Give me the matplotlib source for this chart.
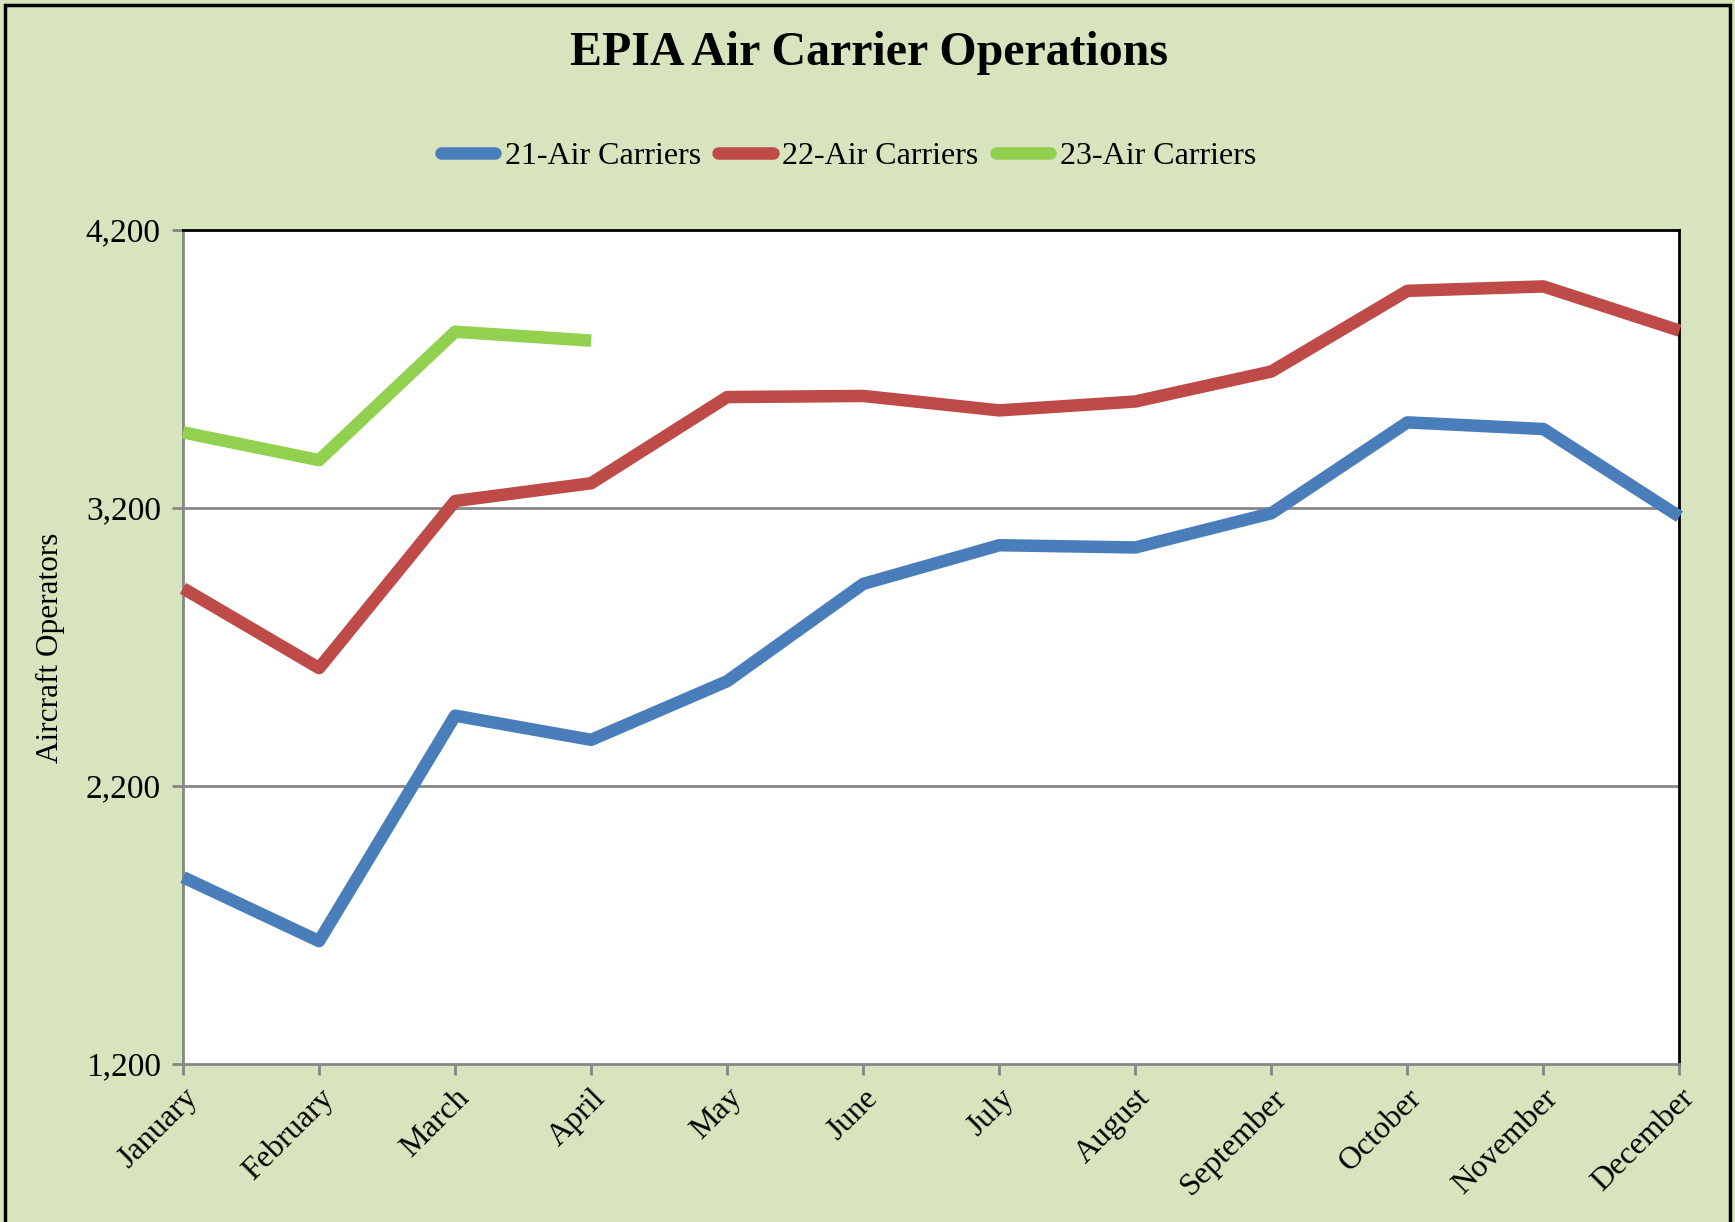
import numpy as np
import matplotlib.pyplot as plt
from matplotlib.patches import Rectangle
from matplotlib.ticker import FuncFormatter

# -----------------------------
# DATA
# -----------------------------
months = ["January", "February", "March", "April", "May", "June",
          "July", "August", "September", "October", "November", "December"]

carriers_21 = [1872, 1642, 2453, 2366, 2577, 2927, 3066, 3058, 3181, 3508, 3484, 3169]
carriers_22 = [2911, 2624, 3225, 3289, 3599, 3603, 3551, 3583, 3691, 3981, 3997, 3838]
carriers_23 = [3472, 3372, 3834, 3802]

series_names = ["21-Air Carriers", "22-Air Carriers", "23-Air Carriers"]
y_ticks = [1200, 2200, 3200, 4200]

# -----------------------------
# STYLE
# -----------------------------
bg = "#D7E4BD"
colors = ["#4A7EBB", "#BE4B48", "#92D050"]
grid_gray = "#868686"
plt.rcParams['font.family'] = ['Liberation Serif', 'DejaVu Serif']

fig = plt.figure(figsize=(17.35, 12.22), dpi=100)
fig.patch.set_facecolor(bg)

# outer frame of the chart
fig.patches.append(Rectangle((0.003, -0.01), 0.994, 1.006, transform=fig.transFigure,
                             fill=False, edgecolor="black", linewidth=2.5))

ax = fig.add_axes([0.1055, 0.1293, 0.8625, 0.6825])
ax.set_facecolor("white")

x = np.arange(len(months))
all_series = [carriers_21, carriers_22, carriers_23]
for vals, name, col in zip(all_series, series_names, colors):
    ax.plot(x[:len(vals)], vals, color=col, lw=9, label=name,
            solid_capstyle="butt", solid_joinstyle="round", clip_on=False, zorder=3)

ax.set_xlim(0, 11)
ax.set_ylim(1200, 4200)
ax.set_yticks(y_ticks)
ax.yaxis.set_major_formatter(FuncFormatter(lambda v, p: f"{int(v):,}"))
ax.set_xticks(x)
ax.set_xticklabels(months, rotation=45, ha="right", rotation_mode="anchor", fontsize=23)
ax.tick_params(axis="y", labelsize=24, length=8, width=2, color=grid_gray, pad=8)
ax.tick_params(axis="x", length=8, width=2, color=grid_gray, pad=6)

for v in y_ticks[1:-1]:
    ax.axhline(v, color=grid_gray, lw=2, zorder=1)

ax.spines["left"].set_color(grid_gray)
ax.spines["bottom"].set_color(grid_gray)
ax.spines["left"].set_linewidth(2)
ax.spines["bottom"].set_linewidth(2)
ax.spines["top"].set_color("black")
ax.spines["right"].set_color("black")
ax.spines["top"].set_linewidth(2)
ax.spines["right"].set_linewidth(2)

fig.text(0.029, 0.47, "Aircraft Operators", rotation=90, ha="center", va="center", fontsize=22.5)
fig.text(0.501, 0.957, "EPIA Air Carrier Operations", ha="center", va="center",
         fontsize=34.5, fontweight="bold")

leg = fig.legend(loc="center", bbox_to_anchor=(0.489, 0.872), ncol=3, frameon=False,
                 fontsize=23, handlelength=1.7, handletextpad=0.3, columnspacing=0.55)
for h in leg.get_lines():
    h.set_solid_capstyle("round")
    h.set_linewidth(9)

fig.savefig("out.png", dpi=100, facecolor=bg)
